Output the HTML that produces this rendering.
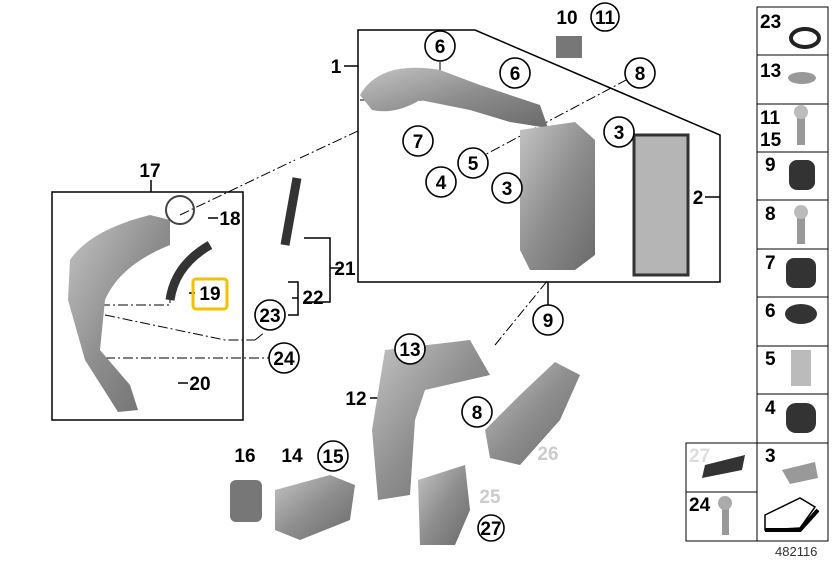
<!DOCTYPE html><html><head><style>body{margin:0;background:#fff}svg{display:block}text{font-family:"Liberation Sans",sans-serif;font-weight:bold;font-size:19px;fill:#000}</style></head><body>
<svg width="832" height="561" viewBox="0 0 832 561">
<defs><linearGradient id="g" x1="0" y1="0" x2="1" y2="1"><stop offset="0" stop-color="#c4c4c4"/><stop offset=".5" stop-color="#8e8e8e"/><stop offset="1" stop-color="#6a6a6a"/></linearGradient></defs>
<g fill="none" stroke="#000" stroke-width="1.5">
<polyline points="358,66 358,30 475,30 720,135 720,282 358,282 358,66"/>
<line x1="344" y1="66" x2="358" y2="66"/>
<rect x="52" y="192" width="191" height="228"/>
<line x1="151" y1="180" x2="151" y2="192"/>
<path d="M304 238h26v64h-26M330 268h12M288 282h10v33h-10M298 298h-6"/>
<g stroke-dasharray="10,3,2,3" stroke-width="1">
<line x1="180" y1="215" x2="295" y2="160"/><line x1="300" y1="158" x2="360" y2="130"/>
<line x1="360" y1="100" x2="440" y2="100"/><line x1="440" y1="62" x2="440" y2="100"/>
<line x1="475" y1="160" x2="630" y2="78"/><line x1="495" y1="345" x2="548" y2="280"/>
<path d="M105 315l120 25h30M100 305h70v-10M105 358h165M255 340l10-8"/>
</g>
<line x1="548" y1="282" x2="548" y2="305"/>
<line x1="208" y1="218" x2="218" y2="218"/>
<line x1="178" y1="383" x2="188" y2="383"/>
<line x1="189" y1="293" x2="195" y2="293"/>
<line x1="370" y1="398" x2="380" y2="398"/>
<line x1="720" y1="197" x2="705" y2="197"/>
</g>
<!-- parts -->
<path d="M360 95 Q380 60 440 70 L480 85 L540 105 L548 128 L510 122 L470 110 L420 100 Q395 115 372 110Z" fill="url(#g)"/>
<path d="M520 130 L575 122 L595 140 L595 255 L575 270 L530 270 L520 250Z" fill="url(#g)"/>
<rect x="634" y="135" width="54" height="140" fill="#b5b5b5" stroke="#333" stroke-width="3"/>
<path d="M70 260 Q90 230 150 215 L170 220 L170 245 Q120 265 105 300 L100 350 L130 385 L138 410 L118 412 L85 360 L68 300Z" fill="url(#g)"/>
<path d="M170 300 Q175 265 210 245" stroke="#333" stroke-width="9" fill="none"/>
<path d="M297 178 L285 245" stroke="#333" stroke-width="9"/>
<circle cx="180" cy="210" r="14" fill="none" stroke="#444" stroke-width="2"/>
<path d="M385 350 L470 340 L490 375 L425 390 L415 420 L410 495 L378 500 L372 430Z" fill="url(#g)"/>
<path d="M485 430 L520 395 L555 362 L580 375 L560 420 L520 465 L490 458Z" fill="url(#g)"/>
<path d="M418 480 L465 465 L470 510 L455 545 L420 545Z" fill="url(#g)"/>
<path d="M275 490 L330 475 L355 485 L350 520 L300 540 L275 530Z" fill="url(#g)"/>
<rect x="230" y="480" width="32" height="42" rx="6" fill="#777"/>
<rect x="556" y="36" width="26" height="22" fill="#777"/>
<!-- right column -->
<g fill="none" stroke="#000" stroke-width="1">
<rect x="757" y="7" width="71" height="534"/>
<path d="M757 55h71M757 104h71M757 152h71M757 200h71M757 249h71M757 297h71M757 346h71M757 394h71M757 443h71M686 443h71v98h-71zM686 492h71"/>
</g>
<g fill="#333">
<ellipse cx="805" cy="38" rx="14" ry="9" fill="none" stroke="#222" stroke-width="4"/>
<ellipse cx="802" cy="78" rx="14" ry="6" fill="#999"/>
<rect x="797" y="110" width="8" height="35" fill="#999"/>
<circle cx="801" cy="112" r="7" fill="#bbb"/>
<rect x="789" y="160" width="26" height="30" rx="8"/>
<rect x="797" y="210" width="8" height="34" fill="#999"/>
<circle cx="801" cy="212" r="7" fill="#bbb"/>
<rect x="786" y="258" width="30" height="30" rx="8"/>
<ellipse cx="801" cy="314" rx="16" ry="10"/>
<rect x="791" y="350" width="20" height="36" fill="#bbb"/>
<rect x="786" y="403" width="30" height="30" rx="10"/>
<path d="M782 470 L815 462 L818 478 L790 484Z" fill="#999"/>
<path d="M705 465 L745 455 L742 470 L702 478Z"/>
<rect x="722" y="505" width="7" height="30" fill="#999"/><circle cx="725" cy="503" r="7" fill="#aaa"/>
<path d="M765 515 L800 498 L815 507 L800 528 L765 530Z" fill="#fff" stroke="#000" stroke-width="1.5"/>
<path d="M765 530 H800 L818 510" stroke="#000" stroke-width="4" fill="none"/>
</g>
<!-- circles -->
<g fill="#fff" stroke="#000" stroke-width="1.6">
<circle cx="440" cy="46" r="15"/><circle cx="515" cy="73" r="15"/><circle cx="640" cy="73" r="15"/>
<circle cx="605" cy="17" r="14"/><circle cx="418" cy="141" r="15"/><circle cx="619" cy="132" r="15"/>
<circle cx="473" cy="163" r="15"/><circle cx="441" cy="182" r="15"/><circle cx="507" cy="188" r="15"/>
<circle cx="548" cy="320" r="15"/><circle cx="270" cy="315" r="15"/><circle cx="284" cy="358" r="15"/>
<circle cx="410" cy="349" r="15"/><circle cx="477" cy="412" r="15"/><circle cx="333" cy="456" r="15"/>
<circle cx="491" cy="528" r="13"/>
</g>
<g text-anchor="middle">
<text x="440" y="53">6</text><text x="515" y="80">6</text><text x="640" y="80">8</text><text x="605" y="24">11</text><text x="567" y="24">10</text>
<text x="418" y="148">7</text><text x="619" y="139">3</text><text x="473" y="170">5</text><text x="441" y="189">4</text><text x="507" y="195">3</text>
<text x="548" y="327">9</text><text x="270" y="322">23</text><text x="284" y="365">24</text><text x="410" y="356">13</text><text x="477" y="419">8</text>
<text x="333" y="463">15</text><text x="491" y="535">27</text>
<text x="150" y="177">17</text><text x="230" y="225">18</text><text x="210" y="300">19</text><text x="200" y="390">20</text>
<text x="345" y="275">21</text><text x="313" y="304">22</text><text x="336" y="73">1</text><text x="698" y="204">2</text>
<text x="356" y="405">12</text><text x="245" y="462">16</text><text x="292" y="462">14</text>
<text x="548" y="460" style="fill:#ccc">26</text><text x="490" y="503" style="fill:#ccc">25</text>
</g>
<rect x="193" y="279" width="34" height="30" rx="3" fill="none" stroke="#f2c200" stroke-width="3"/>
<g style="font-size:20px">
<text x="760" y="28">23</text><text x="760" y="77">13</text><text x="760" y="124">11</text><text x="760" y="146">15</text>
<text x="765" y="171">9</text><text x="765" y="220">8</text><text x="765" y="269">7</text><text x="765" y="317">6</text>
<text x="765" y="365">5</text><text x="765" y="414">4</text><text x="765" y="462">3</text>
<text x="689" y="462" style="fill:#ddd">27</text><text x="689" y="511">24</text>
</g>
<text x="775" y="556" style="font-weight:normal;font-size:13px;fill:#333">482116</text>
</svg></body></html>
